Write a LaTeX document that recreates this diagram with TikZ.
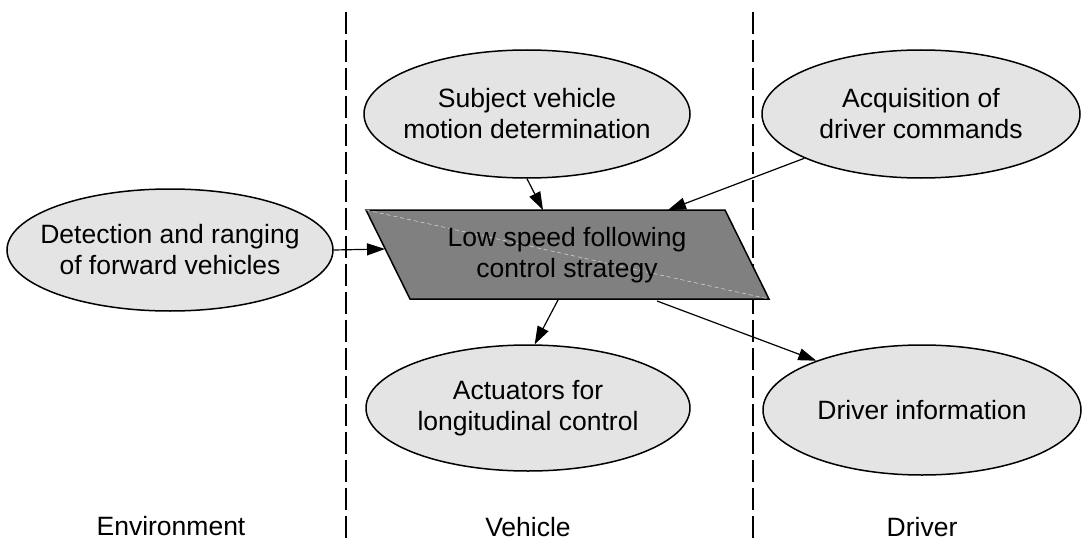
\documentclass[tikz,border=0pt]{standalone}
\usepackage{fontspec}
\setmainfont{Liberation Sans}
\usetikzlibrary{shapes.geometric,arrows.meta}
\definecolor{ellfill}{RGB}{228,228,228}
\definecolor{parfill}{RGB}{128,128,128}
\tikzset{
  ell/.style={ellipse, draw=black, line width=1.5pt, fill=ellfill,
              inner xsep=-80pt, inner ysep=-40pt,
              align=center, font=\fontsize{26.5}{31}\selectfont},
  lbl/.style={font=\fontsize{26.5}{31}\selectfont, inner sep=0pt},
  conn/.style={line width=1.2pt, -{Triangle[length=18pt,width=12pt]}},
  divider/.style={line width=2pt, dash pattern=on 22pt off 6pt},
}
\begin{document}
\begin{tikzpicture}[x=1pt,y=-1pt]
\useasboundingbox (0,0) rectangle (1082,543);

% dividers
\coordinate (d1t) at (346,12);
\coordinate (d1b) at (346,543);
\coordinate (d2t) at (753,12);
\coordinate (d2b) at (753,543);
\draw[divider] (d1t) -- (d1b);
\draw[divider] (d2t) -- (d2b);

% ellipses
\node[ell, minimum width=326pt, minimum height=122pt] (det) at (170,250)
  {Detection and ranging\\of forward vehicles};
\node[ell, minimum width=326pt, minimum height=128pt] (subj) at (527,114)
  {Subject vehicle\\motion determination};
\node[ell, minimum width=318pt, minimum height=128pt] (acq) at (921,114)
  {Acquisition of\\driver commands};
\node[ell, minimum width=324pt, minimum height=126pt] (act) at (528,408)
  {Actuators for\\longitudinal control};
\node[ell, minimum width=318pt, minimum height=130pt] (drv) at (922,410)
  {Driver information};

% parallelogram
\coordinate (ptl) at (366,210);
\coordinate (ptr) at (725,210);
\coordinate (pbr) at (769,299);
\coordinate (pbl) at (410,299);
\draw[line width=1.5pt, fill=parfill, line join=miter] (ptl) -- (ptr) -- (pbr) -- (pbl) -- cycle;
\draw[line width=0.5pt, color=white!75!gray, dash pattern=on 4pt off 3pt] (ptl) -- (pbr);
\node[lbl, align=center] (ctrl) at (567,255) {Low speed following\\control strategy};

% connector end points on the parallelogram
\coordinate (inL) at (385,249);
\coordinate (inT1) at (543,210);
\coordinate (inT2) at (668,210);
\coordinate (outB1) at (558,300);
\coordinate (outB2) at (657,301);

% connectors
\draw[conn] (det.east) -- (inL);
\draw[conn] (subj.south) -- (inT1);
\draw[conn] (acq) -- (inT2);
\draw[conn] (outB1) -- (act.84);
\draw[conn] (outB2) -- (drv.155);

% column labels
\node[lbl] (envl) at (171,526) {Environment};
\node[lbl] (vehl) at (528,527) {Vehicle};
\node[lbl] (drvl) at (922,527) {Driver};
\end{tikzpicture}
\end{document}
